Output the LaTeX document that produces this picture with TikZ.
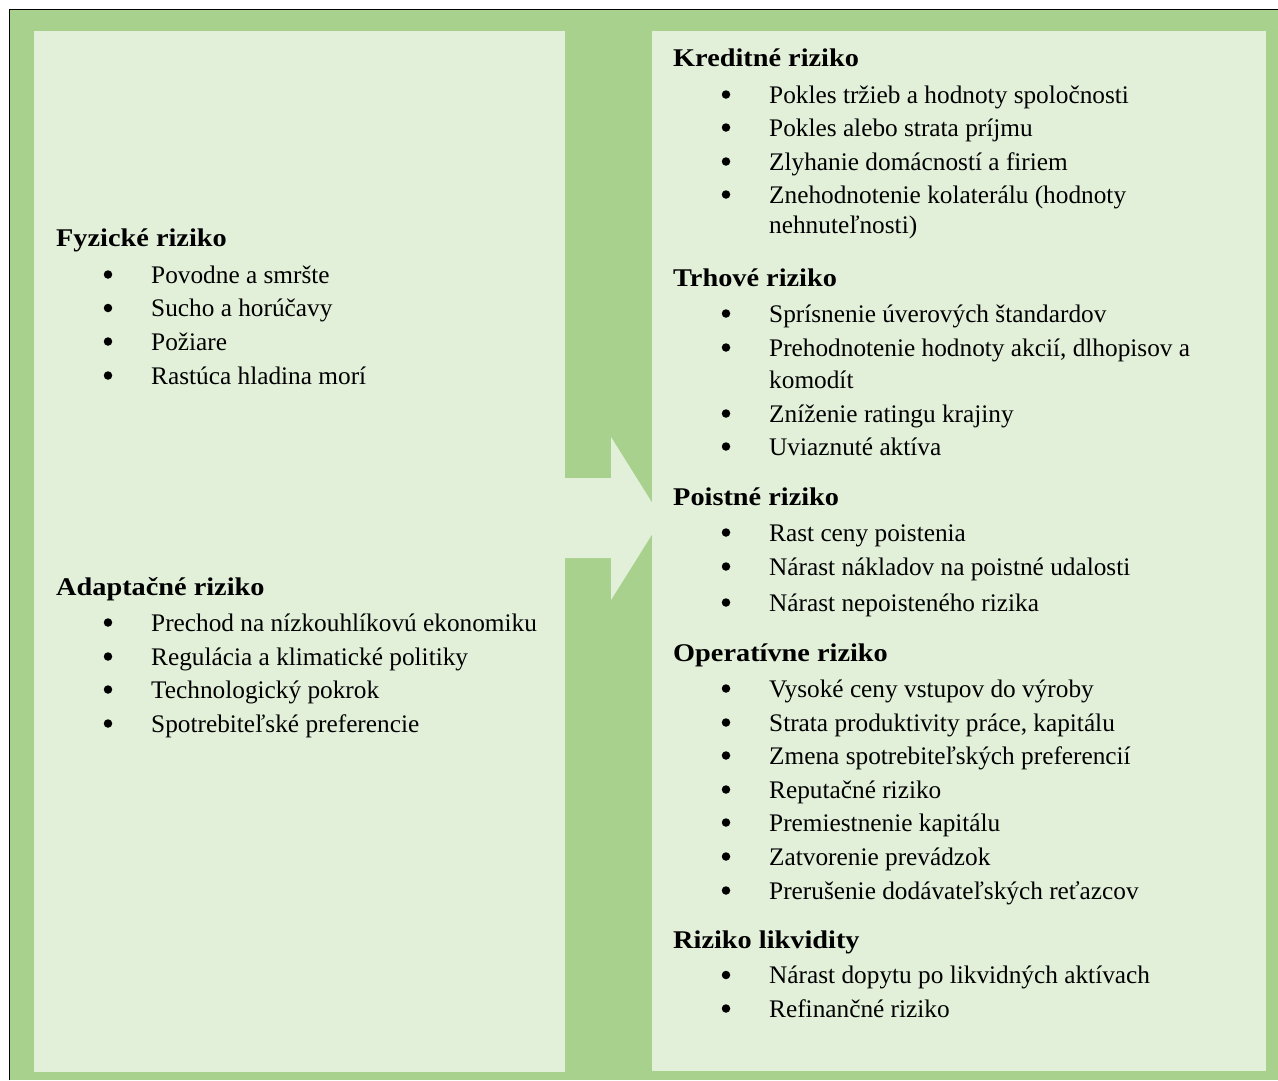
\documentclass[tikz,border=0pt]{standalone}
\usepackage{fontspec}
\setmainfont{Liberation Serif}
\newfontfamily\headfont[FakeStretch=1.11]{Liberation Serif}
\definecolor{frameg}{HTML}{A9D18E}
\definecolor{panelg}{HTML}{E2EFD9}
\tikzset{
  head/.style={anchor=base west, inner sep=0pt, font=\fontsize{25.5}{30}\headfont\bfseries},
  itxt/.style={anchor=base west, inner sep=0pt, font=\fontsize{25.3}{30}\selectfont},
  bul/.style={circle, fill=black, inner sep=0pt, minimum size=8.5pt}
}
\newcommand\bitem[4]{%
  \node[bul] (#1b) at (#2-43,#3-8.5) {};
  \node[itxt] (#1) at (#2,#3) {#4};}
\begin{document}
\begin{tikzpicture}[x=1pt,y=-1pt]
\useasboundingbox (0,0) rectangle (1278,1080);
\fill[frameg] (9.5,9.5) rectangle (1278,1080);
\draw[black, line width=1.8pt] (9.5,1080) -- (9.5,9.5) -- (1278,9.5);
\fill[panelg] (34,31) rectangle (565,1072);
\fill[panelg] (652,31) rectangle (1266,1071);
\fill[panelg] (565,478) -- (611,478) -- (611,437) -- (662,518.5) -- (611,600) -- (611,558) -- (565,558) -- cycle;
% left column
\node[head] (fyz) at (56,246.7) {Fyzické riziko};
\bitem{f1}{151}{283}{Povodne a smršte}
\bitem{f2}{151}{316.5}{Sucho a horúčavy}
\bitem{f3}{151}{350}{Požiare}
\bitem{f4}{151}{384}{Rastúca hladina morí}
\node[head] (ada) at (56,595) {Adaptačné riziko};
\bitem{a1}{151}{631}{Prechod na nízkouhlíkovú ekonomiku}
\bitem{a2}{151}{665}{Regulácia a klimatické politiky}
\bitem{a3}{151}{698}{Technologický pokrok}
\bitem{a4}{151}{732}{Spotrebiteľské preferencie}
% right column
\node[head] (kre) at (673,66.7) {Kreditné riziko};
\bitem{k1}{769}{103}{Pokles tržieb a hodnoty spoločnosti}
\bitem{k2}{769}{136}{Pokles alebo strata príjmu}
\bitem{k3}{769}{170}{Zlyhanie domácností a firiem}
\bitem{k4}{769}{203}{Znehodnotenie kolaterálu (hodnoty}
\node[itxt] (k4b2) at (769,233.5) {nehnuteľnosti)};
\node[head] (trh) at (673,286) {Trhové riziko};
\bitem{t1}{769}{322}{Sprísnenie úverových štandardov}
\bitem{t2}{769}{356}{Prehodnotenie hodnoty akcií, dlhopisov a}
\node[itxt] (t2b2) at (769,388) {komodít};
\bitem{t3}{769}{422}{Zníženie ratingu krajiny}
\bitem{t4}{769}{455}{Uviaznuté aktíva}
\node[head] (poi) at (673,505) {Poistné riziko};
\bitem{p1}{769}{541}{Rast ceny poistenia}
\bitem{p2}{769}{575}{Nárast nákladov na poistné udalosti}
\bitem{p3}{769}{611}{Nárast nepoisteného rizika}
\node[head] (ope) at (673,661) {Operatívne riziko};
\bitem{o1}{769}{697}{Vysoké ceny vstupov do výroby}
\bitem{o2}{769}{731}{Strata produktivity práce, kapitálu}
\bitem{o3}{769}{764}{Zmena spotrebiteľských preferencií}
\bitem{o4}{769}{798}{Reputačné riziko}
\bitem{o5}{769}{831}{Premiestnenie kapitálu}
\bitem{o6}{769}{865}{Zatvorenie prevádzok}
\bitem{o7}{769}{899}{Prerušenie dodávateľských reťazcov}
\node[head] (lik) at (673,948.3) {Riziko likvidity};
\bitem{l1}{769}{983.5}{Nárast dopytu po likvidných aktívach}
\bitem{l2}{769}{1017}{Refinančné riziko}
\end{tikzpicture}
\end{document}
